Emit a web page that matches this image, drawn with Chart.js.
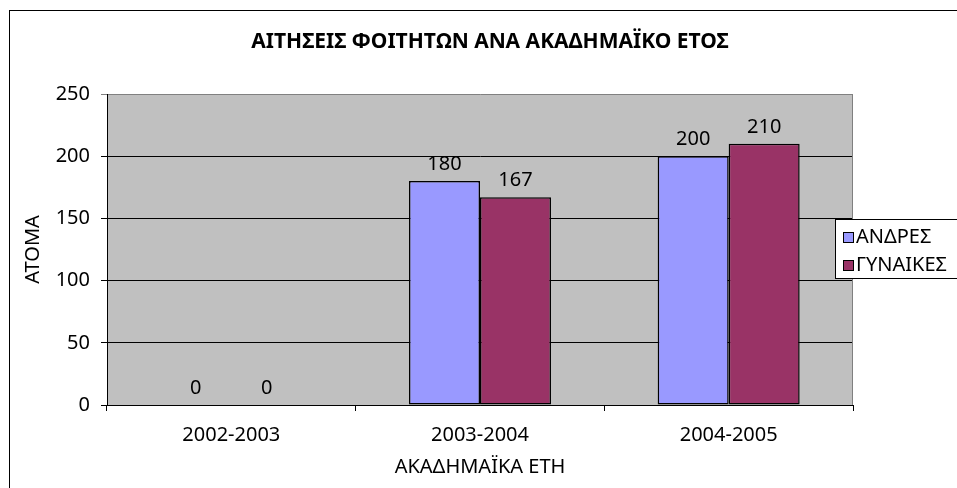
<!DOCTYPE html>
<html lang="el">
<head>
  <meta charset="UTF-8">
  <title>ΑΙΤΗΣΕΙΣ ΦΟΙΤΗΤΩΝ</title>
  <script src="https://cdn.jsdelivr.net/npm/chart.js"></script>
  <style>
    html, body { margin: 0; padding: 0; background: #fff; }
  </style>
</head>
<body>
  <canvas id="chart" width="957" height="488"></canvas>

  <script>
    // Δεδομένα
    const years = ['2002-2003', '2003-2004', '2004-2005'];
    const men = [0, 180, 200];
    const women = [0, 167, 210];
    const seriesNames = ['ΑΝΔΡΕΣ', 'ΓΥΝΑΙΚΕΣ'];
    const yTicks = [0, 50, 100, 150, 200, 250];
    const chartTitle = 'ΑΙΤΗΣΕΙΣ ΦΟΙΤΗΤΩΝ ΑΝΑ ΑΚΑΔΗΜΑΪΚΟ ΕΤΟΣ';

    const FONT = '"Noto Sans", "DejaVu Sans", sans-serif';

    // φόντο, πλαίσιο, γκρι περιοχή
    const backgroundPlugin = {
      id: 'bg',
      beforeDraw(chart) {
        const { ctx, chartArea: a } = chart;
        ctx.save();
        ctx.fillStyle = '#fff';
        ctx.fillRect(0, 0, chart.width, chart.height);
        ctx.strokeStyle = '#000';
        ctx.lineWidth = 1;
        ctx.strokeRect(9.5, 10.5, 1000, 1000);
        ctx.fillStyle = '#C0C0C0';
        ctx.fillRect(a.left, a.top, a.right - a.left, a.bottom - a.top);
        ctx.restore();
      },
      beforeDatasetsDraw(chart) {
        const { ctx, chartArea: a } = chart;
        ctx.save();
        ctx.strokeStyle = '#808080';
        ctx.lineWidth = 1;
        ctx.beginPath();
        ctx.moveTo(a.right - 0.5, a.top);
        ctx.lineTo(a.right - 0.5, a.bottom);
        ctx.stroke();
        ctx.restore();
      },
      afterDraw(chart) {
        const { ctx } = chart;
        ctx.save();
        ctx.font = 'bold 21px ' + FONT;
        ctx.fillStyle = '#000';
        ctx.textAlign = 'center';
        ctx.textBaseline = 'middle';
        ctx.fillText(chartTitle, 490, 42);
        ctx.restore();
      }
    };

    // τιμές πάνω από τις μπάρες
    const labelPlugin = {
      id: 'valueLabels',
      afterDatasetsDraw(chart) {
        const { ctx } = chart;
        ctx.save();
        ctx.font = '20px ' + FONT;
        ctx.fillStyle = '#000';
        ctx.textAlign = 'center';
        ctx.textBaseline = 'alphabetic';
        chart.data.datasets.forEach((ds, i) => {
          chart.getDatasetMeta(i).data.forEach((bar, j) => {
            ctx.fillText(String(ds.data[j]), bar.x, bar.y - 11);
          });
        });
        ctx.restore();
      }
    };

    // υπόμνημα
    const legendPlugin = {
      id: 'boxLegend',
      afterDraw(chart) {
        const { ctx } = chart;
        ctx.save();
        ctx.fillStyle = '#fff';
        ctx.fillRect(835.5, 219.5, 200, 59);
        ctx.strokeStyle = '#000';
        ctx.lineWidth = 1;
        ctx.strokeRect(835.5, 219.5, 200, 59);
        ctx.font = '20px ' + FONT;
        ctx.textBaseline = 'middle';
        ctx.textAlign = 'left';
        chart.data.datasets.forEach((ds, i) => {
          const y = 232 + i * 28;
          ctx.fillStyle = ds.backgroundColor;
          ctx.fillRect(843.5, y + 0.5, 10, 10);
          ctx.strokeRect(843.5, y + 0.5, 10, 10);
          ctx.fillStyle = '#000';
          ctx.fillText(ds.label, 856, y + 5);
        });
        ctx.restore();
      }
    };

    const ctx = document.getElementById('chart').getContext('2d');
    new Chart(ctx, {
      type: 'bar',
      data: {
        labels: years,
        datasets: [
          {
            label: seriesNames[0],
            data: men,
            backgroundColor: '#9999FF',
            borderColor: '#000',
            borderWidth: 1.5,
            borderSkipped: false
          },
          {
            label: seriesNames[1],
            data: women,
            backgroundColor: '#993366',
            borderColor: '#000',
            borderWidth: 1.5,
            borderSkipped: false
          }
        ]
      },
      options: {
        responsive: false,
        animation: false,
        layout: { padding: { left: 0, right: 104, top: 94, bottom: 0 } },
        datasets: { bar: { categoryPercentage: 0.571, barPercentage: 1 } },
        plugins: {
          legend: { display: false },
          tooltip: { enabled: false },
          title: { display: false }
        },
        scales: {
          x: {
            grid: {
              offset: true,
              drawOnChartArea: false,
              drawTicks: true,
              tickLength: 6,
              color: '#000'
            },
            border: { display: true, color: '#000' },
            ticks: {
              color: '#000',
              padding: 12,
              font: { family: FONT, size: 20 }
            },
            title: {
              display: true,
              text: 'ΑΚΑΔΗΜΑΪΚΑ ΕΤΗ',
              color: '#000',
              font: { family: FONT, size: 20, lineHeight: 1.2 },
              padding: { top: 0, bottom: 9 }
            },
            afterFit(scale) { scale.height = 83; }
          },
          y: {
            min: 0,
            max: 250,
            afterBuildTicks(scale) { scale.ticks = yTicks.map(v => ({ value: v })); },
            grid: {
              drawTicks: true,
              tickLength: 6,
              color: c => (c.tick && c.tick.value === 250 ? '#808080' : '#000')
            },
            border: { display: true, color: '#000' },
            ticks: {
              color: '#000',
              padding: 11,
              font: { family: FONT, size: 20 }
            },
            title: {
              display: true,
              text: 'ΑΤΟΜΑ',
              color: '#000',
              font: { family: FONT, size: 20, lineHeight: 1.2 },
              padding: { top: 21, bottom: 0 }
            },
            afterFit(scale) { scale.width = 107; }
          }
        }
      },
      plugins: [backgroundPlugin, labelPlugin, legendPlugin]
    });
  </script>
</body>
</html>
